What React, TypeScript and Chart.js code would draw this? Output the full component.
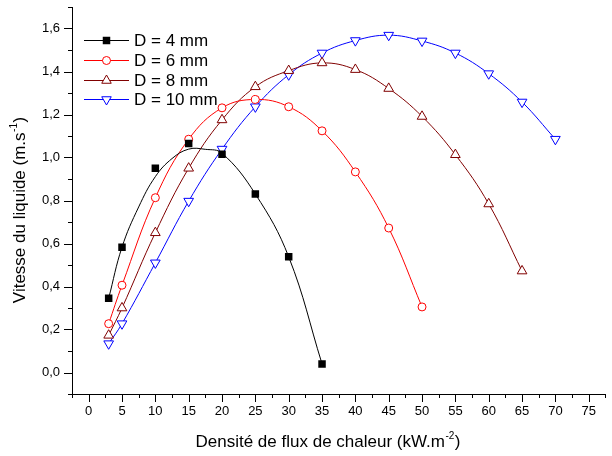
import React, { useEffect, useRef } from 'react';
import { Chart, registerables } from 'chart.js';

Chart.register(...registerables);

// ---- data ----
const seriesLabels = ['D = 4 mm', 'D = 6 mm', 'D = 8 mm', 'D = 10 mm'];

const flux4 = [3, 5, 10, 15, 20, 25, 30, 35];
const speed4 = [0.345, 0.583, 0.95, 1.065, 1.015, 0.83, 0.538, 0.04];
// fitted curve drawn through D = 4 mm in the reference
const fitFlux4 = [3, 5, 7.5, 10, 12.5, 15, 17.5, 20, 25, 30, 35];
const fitSpeed4 = [0.345, 0.583, 0.77, 0.911, 0.995, 1.039, 1.038, 1.02, 0.83, 0.538, 0.04];

const flux6 = [3, 5, 10, 15, 20, 25, 30, 35, 40, 45, 50];
const speed6 = [0.227, 0.406, 0.813, 1.085, 1.231, 1.27, 1.236, 1.124, 0.933, 0.672, 0.305];

const flux8 = [3, 5, 10, 15, 20, 25, 30, 35, 40, 45, 50, 55, 60, 65];
const speed8 = [0.173, 0.3, 0.65, 0.95, 1.175, 1.329, 1.404, 1.44, 1.409, 1.321, 1.191, 1.013, 0.784, 0.472];

const flux10 = [3, 5, 10, 15, 20, 25, 30, 35, 40, 45, 50, 55, 60, 65, 70];
const speed10 = [0.134, 0.227, 0.51, 0.797, 1.039, 1.236, 1.385, 1.486, 1.544, 1.569, 1.542, 1.486, 1.39, 1.258, 1.085];

const xTickLabels = ['0', '5', '10', '15', '20', '25', '30', '35', '40', '45', '50', '55', '60', '65', '70', '75'];
const yTickLabels = ['0,0', '0,2', '0,4', '0,6', '0,8', '1,0', '1,2', '1,4', '1,6'];

const xTitle = 'Densité de flux de chaleur (kW.m';
const xTitleSup = '-2';
const yTitle = 'Vitesse du liquide (m.s';
const yTitleSup = '-1';

const FONT = 'Arial, "Liberation Sans", Helvetica, sans-serif';

const pts = (xs: number[], ys: number[]) => xs.map((x, i) => ({ x, y: ys[i] }));

function drawMarker(ctx: CanvasRenderingContext2D, style: string, x: number, y: number, color: string) {
  ctx.save();
  ctx.strokeStyle = color;
  ctx.fillStyle = color;
  ctx.lineWidth = 1;
  ctx.beginPath();
  if (style === 'rect') {
    const s = 3.75;
    ctx.rect(x - s, y - s, 2 * s, 2 * s);
    ctx.fill();
  } else if (style === 'circle') {
    ctx.fillStyle = '#fff';
    ctx.arc(x, y, 4, 0, Math.PI * 2);
    ctx.fill();
    ctx.stroke();
  } else if (style === 'triUp' || style === 'triDown') {
    const r = 5.5;
    const dir = style === 'triUp' ? 1 : -1;
    const h = Math.sin(Math.PI / 3) * r;
    ctx.moveTo(x, y - dir * r);
    ctx.lineTo(x + h, y + dir * r / 2);
    ctx.lineTo(x - h, y + dir * r / 2);
    ctx.closePath();
    ctx.fillStyle = '#fff';
    ctx.fill();
    ctx.stroke();
  }
  ctx.restore();
}

const legendItems = [
  { color: '#000000', marker: 'rect' },
  { color: '#ff0000', marker: 'circle' },
  { color: '#800000', marker: 'triUp' },
  { color: '#0000ff', marker: 'triDown' },
];

function drawSupText(
  ctx: CanvasRenderingContext2D, main: string, sup: string, cx: number, by: number, size: number, supSize: number,
) {
  ctx.font = `${size}px ${FONT}`;
  const wMain = ctx.measureText(main).width;
  const wClose = ctx.measureText(')').width;
  ctx.font = `${supSize}px ${FONT}`;
  const wSup = ctx.measureText(sup).width;
  const sx = cx - (wMain + wSup + 1 + wClose) / 2;
  ctx.font = `${size}px ${FONT}`;
  ctx.fillText(main, sx, by);
  ctx.font = `${supSize}px ${FONT}`;
  ctx.fillText(sup, sx + wMain + 0.5, by - size * 0.45);
  ctx.font = `${size}px ${FONT}`;
  ctx.fillText(')', sx + wMain + wSup + 1, by);
}

const decorPlugin = {
  id: 'decor',
  afterDraw(chart: any) {
    const ctx: CanvasRenderingContext2D = chart.ctx;
    const xs = chart.scales.x;
    const ys = chart.scales.y;
    ctx.save();
    ctx.strokeStyle = '#000';
    ctx.lineWidth = 1;
    ctx.beginPath();
    xs.ticks.forEach((t: any) => {
      const px = Math.round(xs.getPixelForValue(t.value)) + 0.5;
      const major = Math.abs(t.value / 5 - Math.round(t.value / 5)) < 1e-6;
      ctx.moveTo(px, xs.top);
      ctx.lineTo(px, xs.top + (major ? 8 : 4));
    });
    ys.ticks.forEach((t: any) => {
      const py = Math.round(ys.getPixelForValue(t.value)) + 0.5;
      const major = Math.abs(t.value / 0.2 - Math.round(t.value / 0.2)) < 1e-6;
      ctx.moveTo(ys.right, py);
      ctx.lineTo(ys.right - (major ? 8 : 4), py);
    });
    ctx.stroke();

    ctx.fillStyle = '#000';
    ctx.textBaseline = 'alphabetic';
    ctx.textAlign = 'left';
    // x title
    drawSupText(ctx, xTitle, xTitleSup, 328, 447, 17, 10);
    // y title (rotated)
    ctx.save();
    ctx.translate(25, 210);
    ctx.rotate(-Math.PI / 2);
    drawSupText(ctx, yTitle, yTitleSup, 0, 0, 17, 10);
    ctx.restore();

    // legend
    ctx.font = `17px ${FONT}`;
    ctx.textBaseline = 'middle';
    legendItems.forEach((it, i) => {
      const y = Math.round(40 + i * 19.8) + 0.5;
      ctx.strokeStyle = it.color;
      ctx.lineWidth = 1;
      ctx.beginPath();
      ctx.moveTo(84, y);
      ctx.lineTo(129, y);
      ctx.stroke();
      drawMarker(ctx, it.marker, 106.5, y, it.color);
      ctx.fillStyle = '#000';
      ctx.fillText(seriesLabels[i], 134, y + 1);
    });
    ctx.restore();
  },
};

export default function App() {
  const canvasRef = useRef<HTMLCanvasElement | null>(null);

  useEffect(() => {
    document.body.style.margin = '0';
    const canvas = canvasRef.current;
    if (!canvas) return;

    const lineBase = {
      showLine: true,
      fill: false,
      borderWidth: 1,
      tension: 0.4,
      pointBorderWidth: 1,
      pointBackgroundColor: '#ffffff',
    };

    const chart = new Chart(canvas, {
      type: 'scatter',
      data: {
        datasets: [
          {
            label: 'fit4',
            data: pts(fitFlux4, fitSpeed4),
            showLine: true,
            borderColor: '#000000',
            borderWidth: 1,
            pointRadius: 0,
            tension: 0.4,
          },
          {
            label: seriesLabels[0],
            data: pts(flux4, speed4),
            showLine: false,
            pointStyle: 'rect',
            pointRadius: 5.3,
            backgroundColor: '#000000',
            borderColor: '#000000',
            pointBackgroundColor: '#000000',
            pointBorderWidth: 0,
          },
          {
            ...lineBase,
            label: seriesLabels[1],
            data: pts(flux6, speed6),
            borderColor: '#ff0000',
            pointStyle: 'circle',
            pointRadius: 4,
          },
          {
            ...lineBase,
            label: seriesLabels[2],
            data: pts(flux8, speed8),
            borderColor: '#800000',
            pointStyle: 'triangle',
            pointRadius: 5.6,
          },
          {
            ...lineBase,
            label: seriesLabels[3],
            data: pts(flux10, speed10),
            borderColor: '#0000ff',
            pointStyle: 'triangle',
            pointRotation: 180,
            pointRadius: 5.6,
          },
        ],
      },
      options: {
        responsive: false,
        maintainAspectRatio: false,
        animation: false,
        layout: { padding: { top: 7, right: 1, left: 0, bottom: 0 } },
        plugins: {
          legend: { display: false },
          tooltip: { enabled: false },
        },
        scales: {
          x: {
            type: 'linear',
            position: 'bottom',
            min: -2.5,
            max: 77.5,
            afterFit: (s: any) => { s.height = 62; s.paddingLeft = 0; s.paddingRight = 0; },
            grid: { display: false, drawTicks: false },
            border: { display: true, color: '#000', width: 1 },
            ticks: {
              stepSize: 2.5,
              autoSkip: false,
              maxRotation: 0,
              minRotation: 0,
              padding: 10,
              color: '#000',
              font: { family: FONT, size: 13 },
              callback: (v: any) => {
                const n = Number(v);
                if (n < 0 || Math.abs(n / 5 - Math.round(n / 5)) > 1e-6) return '';
                return xTickLabels[Math.round(n / 5)] ?? '';
              },
            },
          },
          y: {
            type: 'linear',
            min: -0.1,
            max: 1.7,
            afterFit: (s: any) => { s.width = 72; s.paddingTop = 0; s.paddingBottom = 0; },
            grid: { display: false, drawTicks: false },
            border: { display: true, color: '#000', width: 1 },
            ticks: {
              stepSize: 0.1,
              autoSkip: false,
              padding: 12,
              color: '#000',
              font: { family: FONT, size: 13 },
              callback: (v: any) => {
                const k = Math.round(Number(v) * 10);
                if (k < 0 || k % 2 !== 0) return '';
                return yTickLabels[k / 2] ?? '';
              },
            },
          },
        },
      },
      plugins: [decorPlugin],
    });

    return () => chart.destroy();
  }, []);

  return (
    <div style={{ width: 612, height: 456 }}>
      <canvas ref={canvasRef} width={612} height={456} style={{ display: 'block' }} />
    </div>
  );
}
